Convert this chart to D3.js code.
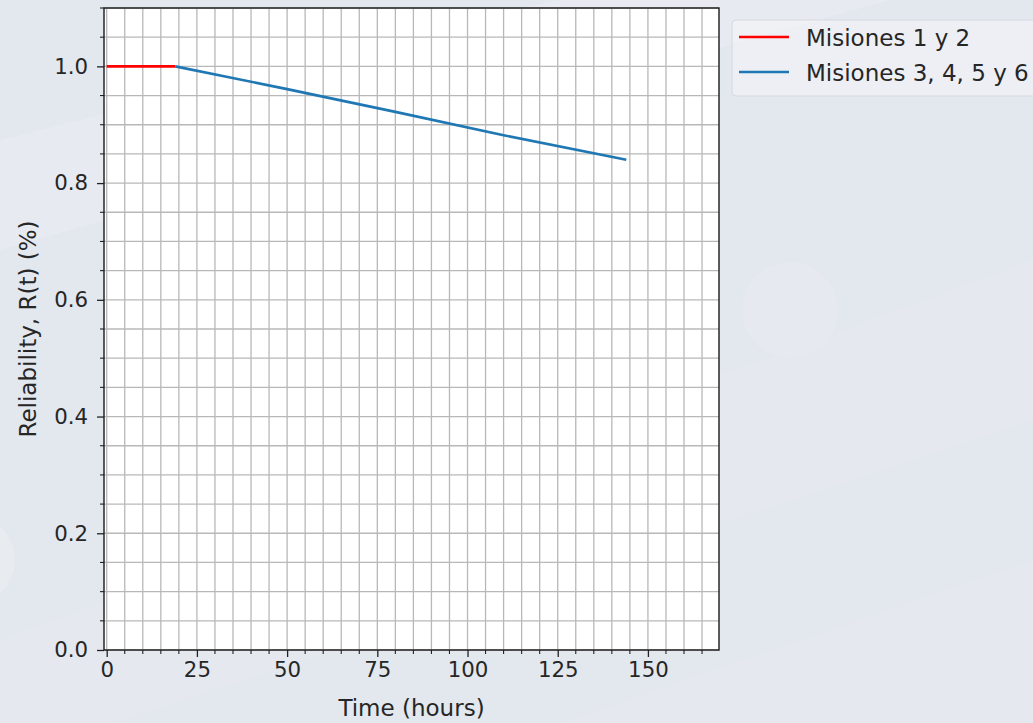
<!DOCTYPE html>
<html><head><meta charset="utf-8">
<script src="https://cdn.jsdelivr.net/npm/d3@7"></script>
<style>html,body{margin:0;padding:0;overflow:hidden;background:#e3e7ee;}</style>
</head><body>
<svg id="c" width="1033" height="723"></svg>
<script>
// ---- data ----
const mission12 = [[0, 1.0], [19, 1.0]];
const mission3456 = [[19, 1.0], [50, 0.961], [80, 0.922], [110, 0.882], [144, 0.840]];
const seriesNames = ["Misiones 1 y 2", "Misiones 3, 4, 5 y 6"];
const seriesColors = ["#ff0000", "#1f77b4"];
const xTicks = [0, 25, 50, 75, 100, 125, 150];
const yTicks = [0.0, 0.2, 0.4, 0.6, 0.8, 1.0];
const xDomain = [-0.75, 169.7];
const yDomain = [0, 1.1];

const svg = d3.select("#c");
const W = 1033, H = 723;
const L = 104, R = 719, T = 8, B = 650;
const font = "DejaVu Sans, sans-serif";

// background decoration
const bg = svg.append("g");
bg.append("rect").attr("width", W).attr("height", H).attr("fill", "#e3e7ee");
bg.append("path").attr("d", "M0,140 L1033,-120 L1033,-40 L0,250 Z").attr("fill", "#e8ebf1").attr("opacity", 0.7);
bg.append("path").attr("d", "M0,640 L1033,260 L1033,420 L0,760 Z").attr("fill", "#e6e9ef").attr("opacity", 0.6);
bg.append("circle").attr("cx", 790).attr("cy", 310).attr("r", 48).attr("fill", "#e6e9ef");
bg.append("circle").attr("cx", -30).attr("cy", 560).attr("r", 45).attr("fill", "#e8ebf0");
bg.append("path").attr("d", "M560,723 L1033,560 L1033,723 Z").attr("fill", "#e5e8ee").attr("opacity", 0.8);

const x = d3.scaleLinear().domain(xDomain).range([L, R]);
const y = d3.scaleLinear().domain(yDomain).range([B, T]);

// plot area
svg.append("rect").attr("x", L).attr("y", T).attr("width", R - L).attr("height", B - T).attr("fill", "#ffffff");

// grid
const xGrid = d3.range(0, 170, 5);
const yGrid = d3.range(0, 1.1001, 0.05);
const grid = svg.append("g").attr("stroke", "#b8b8b8").attr("stroke-width", 1.3);
grid.selectAll("line.v").data(xGrid).join("line").attr("class", "v")
  .attr("x1", d => x(d)).attr("x2", d => x(d)).attr("y1", T).attr("y2", B);
grid.selectAll("line.h").data(yGrid).join("line").attr("class", "h")
  .attr("x1", L).attr("x2", R).attr("y1", d => y(d)).attr("y2", d => y(d));

// lines
const line = d3.line().x(d => x(d[0])).y(d => y(d[1]));
[mission12, mission3456].forEach((s, i) => {
  svg.append("path").datum(s).attr("d", line).attr("fill", "none")
    .attr("stroke", seriesColors[i]).attr("stroke-width", 2.6).attr("stroke-linecap", "butt");
});

// axes
const xAxis = d3.axisBottom(x).tickValues(xTicks).tickFormat(d3.format("d")).tickSize(7).tickPadding(5);
const yAxis = d3.axisLeft(y).tickValues(yTicks).tickFormat(d3.format(".1f")).tickSize(7).tickPadding(9);
const gx = svg.append("g").attr("transform", `translate(0,${B})`).call(xAxis);
const gy = svg.append("g").attr("transform", `translate(${L},0)`).call(yAxis);
[gx, gy].forEach(g => {
  g.select(".domain").remove();
  g.selectAll(".tick line").attr("stroke", "#222").attr("stroke-width", 1.3);
  g.selectAll(".tick text").attr("fill", "#262626").style("font-family", font).style("font-size", "21.3px");
});
// minor ticks
const xMinor = xGrid.filter(d => d % 25 !== 0);
svg.append("g").selectAll("line").data(xMinor).join("line")
  .attr("x1", d => x(d)).attr("x2", d => x(d)).attr("y1", B).attr("y2", B + 4)
  .attr("stroke", "#222").attr("stroke-width", 1.1);
const yMinor = yGrid.filter(d => Math.abs(Math.round(d * 20) % 4) !== 0);
svg.append("g").selectAll("line").data(yMinor).join("line")
  .attr("x1", L - 4).attr("x2", L).attr("y1", d => y(d)).attr("y2", d => y(d))
  .attr("stroke", "#222").attr("stroke-width", 1.1);

// frame
svg.append("rect").attr("x", L).attr("y", T).attr("width", R - L).attr("height", B - T)
  .attr("fill", "none").attr("stroke", "#1a1a1a").attr("stroke-width", 1.4);

// axis labels
svg.append("text").attr("x", (L + R) / 2).attr("y", 716).attr("text-anchor", "middle")
  .style("font-family", font).style("font-size", "23px").attr("fill", "#262626").text("Time (hours)");
svg.append("text").attr("transform", `translate(36,${(T + B) / 2}) rotate(-90)`).attr("text-anchor", "middle")
  .style("font-family", font).style("font-size", "23px").attr("fill", "#262626").text("Reliability, R(t) (%)");

// legend
const lg = svg.append("g");
lg.append("rect").attr("x", 732).attr("y", 20).attr("width", 320).attr("height", 76).attr("rx", 4)
  .attr("fill", "#ffffff").attr("fill-opacity", 0.35).attr("stroke", "#d6d9df").attr("stroke-width", 1);
seriesNames.forEach((n, i) => {
  const yy = 37 + i * 35;
  lg.append("line").attr("x1", 739).attr("x2", 789).attr("y1", yy).attr("y2", yy)
    .attr("stroke", seriesColors[i]).attr("stroke-width", 2.6);
  lg.append("text").attr("x", 806).attr("y", yy + 8.5).style("font-family", font).style("font-size", "23px")
    .attr("fill", "#262626").text(n);
});
</script>
</body></html>
